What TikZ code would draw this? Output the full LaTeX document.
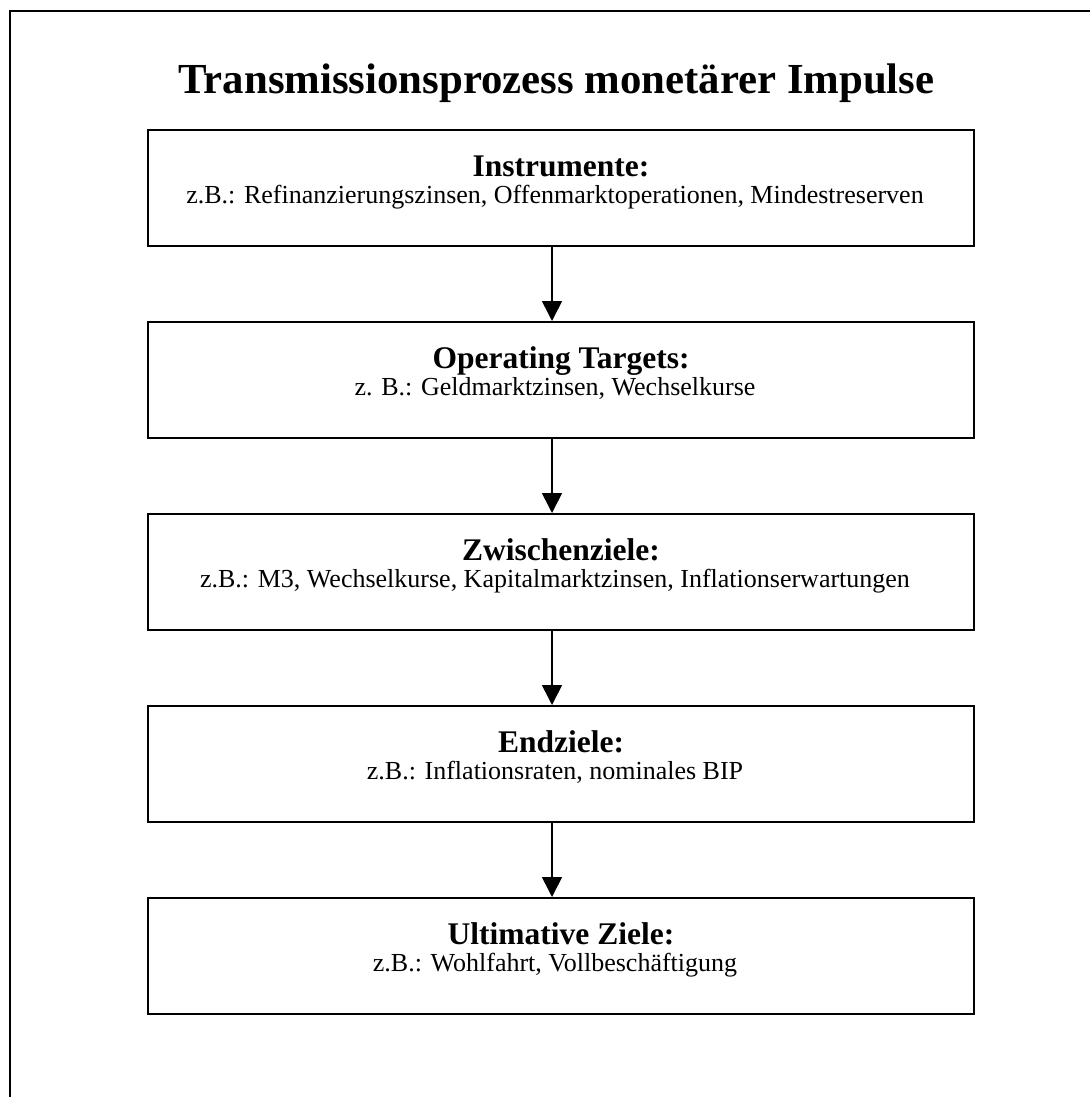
\documentclass[tikz,border=0pt]{standalone}
\usepackage{fontspec}
\setmainfont{Liberation Serif}
\usetikzlibrary{arrows.meta}
\begin{document}
\begin{tikzpicture}[x=1pt,y=1pt,
  box/.style={draw,line width=2pt,minimum width=826pt,minimum height=116pt,inner sep=0pt,anchor=north west},
  headtxt/.style={font=\fontsize{31.5}{36}\selectfont\bfseries,anchor=base,inner sep=0pt},
  subtxt/.style={font=\fontsize{26}{30}\selectfont,anchor=base,inner sep=0pt},
  titletxt/.style={font=\fontsize{42.8}{50}\selectfont\bfseries,anchor=base,inner sep=0pt},
  arr/.style={line width=1.6pt,-{Triangle[width=20pt,length=20pt]}},
  frame/.style={line width=2pt}]
\useasboundingbox (0,0) rectangle (1090,-1097);
\coordinate (fbl) at (10,-1097);
\coordinate (ftl) at (10,-11);
\coordinate (ftr) at (1090,-11);
\draw[frame] (fbl) -- (ftl) -- (ftr);
\node[titletxt] (title) at (556.5,-94) {Transmissionsprozess monetärer Impulse};

\node[box] (b1) at (147,-129) {};
\node[box] (b2) at (147,-321) {};
\node[box] (b3) at (147,-513) {};
\node[box] (b4) at (147,-705) {};
\node[box] (b5) at (147,-897) {};

\node[headtxt] (h1) at ([yshift=-47pt]b1.north) {Instrumente:};
\node[subtxt]  (s1) at ([yshift=-74pt,xshift=-6pt]b1.north) {z.B.: Refinanzierungszinsen, Offenmarktoperationen, Mindestreserven};
\node[headtxt] (h2) at ([yshift=-47pt]b2.north) {Operating Targets:};
\node[subtxt]  (s2) at ([yshift=-74pt,xshift=-6pt]b2.north) {z. B.: Geldmarktzinsen, Wechselkurse};
\node[headtxt] (h3) at ([yshift=-47pt]b3.north) {Zwischenziele:};
\node[subtxt]  (s3) at ([yshift=-74pt,xshift=-6pt]b3.north) {z.B.: M3, Wechselkurse, Kapitalmarktzinsen, Inflationserwartungen};
\node[headtxt] (h4) at ([yshift=-47pt]b4.north) {Endziele:};
\node[subtxt]  (s4) at ([yshift=-74pt,xshift=-6pt]b4.north) {z.B.: Inflationsraten, nominales BIP};
\node[headtxt] (h5) at ([yshift=-47pt]b5.north) {Ultimative Ziele:};
\node[subtxt]  (s5) at ([yshift=-74pt,xshift=-6pt]b5.north) {z.B.: Wohlfahrt, Vollbeschäftigung};

\draw[arr] ([xshift=-9pt]b1.south) -- ([xshift=-9pt]b2.north);
\draw[arr] ([xshift=-9pt]b2.south) -- ([xshift=-9pt]b3.north);
\draw[arr] ([xshift=-9pt]b3.south) -- ([xshift=-9pt]b4.north);
\draw[arr] ([xshift=-9pt]b4.south) -- ([xshift=-9pt]b5.north);
\end{tikzpicture}
\end{document}
